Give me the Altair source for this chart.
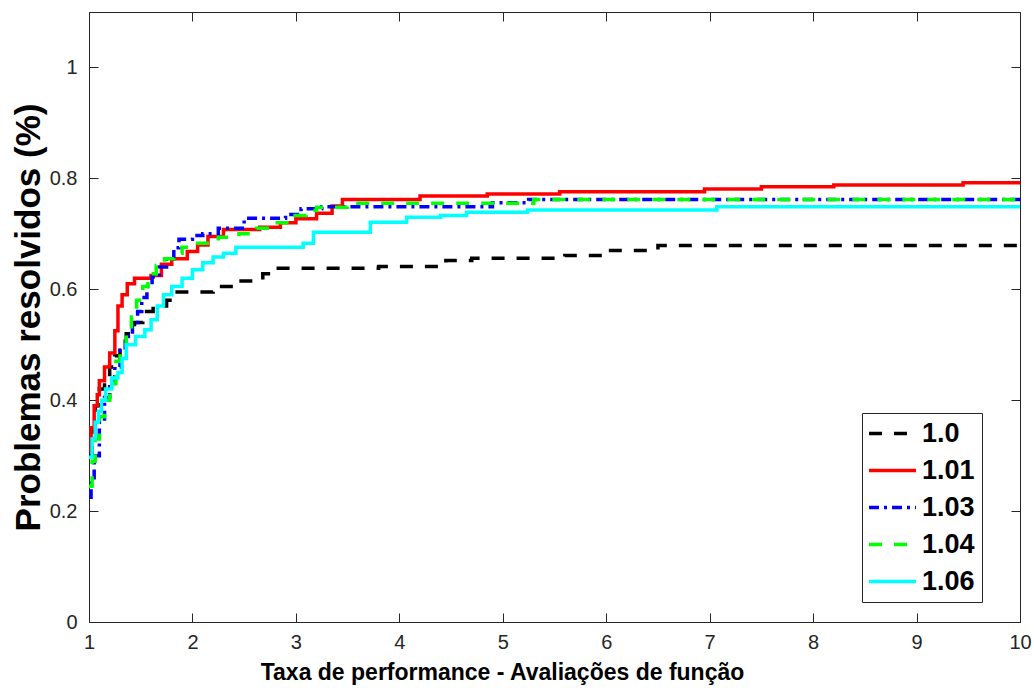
import altair as alt
import pandas as pd

series_names = ["1.0", "1.01", "1.03", "1.04", "1.06"]
colors = ["#000000", "#ff0000", "#0000ff", "#00ff00", "#00ffff"]
dashes = [[13, 12], [1, 0], [10, 5, 3, 5], [13, 12], [1, 0]]

x_10 = [1.0, 1.03, 1.06, 1.1, 1.15, 1.2, 1.25, 1.3, 1.36, 1.44, 1.52, 1.62, 1.75, 1.82,
        2.2, 2.45, 2.68, 2.8, 3.8, 4.45, 4.7, 5.6, 6.0, 6.5, 10.0]
y_10 = [0.30, 0.35, 0.39, 0.42, 0.44, 0.46, 0.48, 0.50, 0.52, 0.54, 0.56, 0.57, 0.58, 0.595,
        0.605, 0.615, 0.628, 0.638, 0.641, 0.652, 0.656, 0.661, 0.670, 0.679, 0.679]

x_101 = [1.0, 1.02, 1.05, 1.08, 1.1, 1.15, 1.2, 1.25, 1.28, 1.32, 1.37, 1.44, 1.6, 1.7, 1.8,
         1.95, 2.05, 2.15, 2.3, 2.65, 2.85, 3.0, 3.2, 3.35, 3.45, 4.2, 4.85, 5.55, 6.95, 7.5,
         8.2, 9.45, 10.0]
y_101 = [0.31, 0.35, 0.39, 0.41, 0.435, 0.46, 0.485, 0.525, 0.57, 0.59, 0.61, 0.62, 0.625,
         0.645, 0.655, 0.668, 0.68, 0.695, 0.708, 0.712, 0.72, 0.727, 0.737, 0.75, 0.762,
         0.768, 0.772, 0.776, 0.781, 0.785, 0.788, 0.792, 0.792]

x_103 = [1.0, 1.02, 1.05, 1.1, 1.15, 1.2, 1.25, 1.3, 1.35, 1.42, 1.47, 1.51, 1.56, 1.61,
         1.68, 1.75, 1.82, 1.87, 2.0, 2.1, 2.25, 2.5, 2.9, 3.05, 3.25, 4.9, 5.25, 10.0]
y_103 = [0.225, 0.26, 0.30, 0.36, 0.405, 0.43, 0.46, 0.49, 0.515, 0.54, 0.56, 0.585, 0.605,
         0.622, 0.64, 0.655, 0.675, 0.69, 0.697, 0.70, 0.71, 0.728, 0.735, 0.745, 0.749,
         0.756, 0.762, 0.762]

x_104 = [1.0, 1.03, 1.06, 1.1, 1.15, 1.2, 1.26, 1.3, 1.36, 1.41, 1.46, 1.52, 1.57, 1.65,
         1.73, 1.82, 1.9, 2.05, 2.25, 2.45, 2.62, 2.82, 2.97, 3.1, 3.2, 3.5, 5.3, 10.0]
y_104 = [0.245, 0.29, 0.33, 0.37, 0.40, 0.43, 0.47, 0.495, 0.525, 0.55, 0.58, 0.605, 0.628,
         0.643, 0.655, 0.665, 0.676, 0.683, 0.694, 0.70, 0.71, 0.72, 0.733, 0.742, 0.748,
         0.755, 0.762, 0.762]

x_106 = [1.0, 1.03, 1.06, 1.09, 1.12, 1.16, 1.22, 1.28, 1.32, 1.36, 1.45, 1.54, 1.6, 1.66,
         1.72, 1.8, 1.9, 2.0, 2.1, 2.2, 2.3, 2.42, 3.07, 3.17, 3.72, 4.07, 4.4, 4.65, 5.24,
         7.07, 10.0]
y_106 = [0.297, 0.33, 0.36, 0.38, 0.40, 0.42, 0.44, 0.45, 0.475, 0.50, 0.515, 0.527, 0.545,
         0.57, 0.59, 0.605, 0.62, 0.635, 0.648, 0.658, 0.665, 0.676, 0.683, 0.703, 0.721,
         0.730, 0.733, 0.739, 0.743, 0.749, 0.749]

x_ticks = [1, 2, 3, 4, 5, 6, 7, 8, 9, 10]
y_ticks = [0, 0.2, 0.4, 0.6, 0.8, 1.0]

xs_all = [x_10, x_101, x_103, x_104, x_106]
ys_all = [y_10, y_101, y_103, y_104, y_106]

rows = []
for name, xv, yv in zip(series_names, xs_all, ys_all):
    for i, (a, b) in enumerate(zip(xv, yv)):
        rows.append({"series": name, "x": a, "y": b, "i": i})
df = pd.DataFrame(rows)

FONT = "Liberation Sans"
AX = "#262626"

xscale = alt.Scale(domain=[1, 10], nice=False, zero=False)
yscale = alt.Scale(domain=[0, 1.1], nice=False, zero=False)

ax_bottom = alt.Axis(values=x_ticks, format="d", title="Taxa de performance  - Avaliações de função",
                     orient="bottom", offset=-9, tickSize=9, tickColor=AX, domain=False, grid=False,
                     labelPadding=10, labelFontSize=20, labelFont=FONT, labelColor=AX,
                     labelFlush=False,
                     titleFont=FONT, titleFontSize=23, titleFontWeight="bold", titleColor="black",
                     titlePadding=9, titleX=413)
ax_left = alt.Axis(values=y_ticks, format="~g", title="Problemas resolvidos (%)",
                   orient="left", offset=-9, tickSize=9, tickColor=AX, domain=False, grid=False,
                   labelPadding=12, labelFontSize=20, labelFont=FONT, labelColor=AX,
                   labelFlush=False,
                   titleFont=FONT, titleFontSize=35, titleFontWeight="bold", titleColor="black",
                   titlePadding=3)
ax_top = alt.Axis(values=x_ticks, orient="top", offset=-9, tickSize=9, tickColor=AX, domain=False,
                  grid=False, labels=False, title=None)
ax_right = alt.Axis(values=y_ticks, orient="right", offset=-9, tickSize=9, tickColor=AX, domain=False,
                    grid=False, labels=False, title=None)

legend = alt.Legend(orient="none", legendX=773, legendY=401, symbolType="M-2,0H2", symbolSize=552,
                    symbolStrokeWidth=3.5, symbolOffset=10, labelOffset=16, labelFontSize=27,
                    labelFontWeight="bold", labelFont=FONT, labelColor="black", padding=7,
                    rowPadding=9, strokeColor=AX, fillColor="white",
                    labelExpr="datum.label + '\u00a0\u00a0'")

lines = alt.Chart(df).mark_line(interpolate="step-after", strokeWidth=3.5, clip=True).encode(
    x=alt.X("x:Q", scale=xscale, axis=ax_bottom),
    y=alt.Y("y:Q", scale=yscale, axis=ax_left),
    color=alt.Color("series:N", scale=alt.Scale(domain=series_names, range=colors), legend=legend, title=None),
    strokeDash=alt.StrokeDash("series:N", scale=alt.Scale(domain=series_names, range=dashes), legend=legend, title=None),
    order="i:Q",
)

frame = alt.Chart(df).mark_line(opacity=0).encode(
    x=alt.X("x:Q", scale=xscale, axis=ax_top),
    y=alt.Y("y:Q", scale=yscale, axis=ax_right),
    detail="series:N",
)

chart = alt.layer(lines, frame).resolve_axis(x="independent", y="independent").properties(
    width=931, height=610,
    autosize=alt.AutoSizeParams(type="none"),
    padding={"left": 89, "top": 12, "right": 14, "bottom": 68},
    background="white",
).configure_view(stroke=AX, strokeWidth=1)

chart.save("out.html", embed_options={"renderer": "svg", "actions": False})
